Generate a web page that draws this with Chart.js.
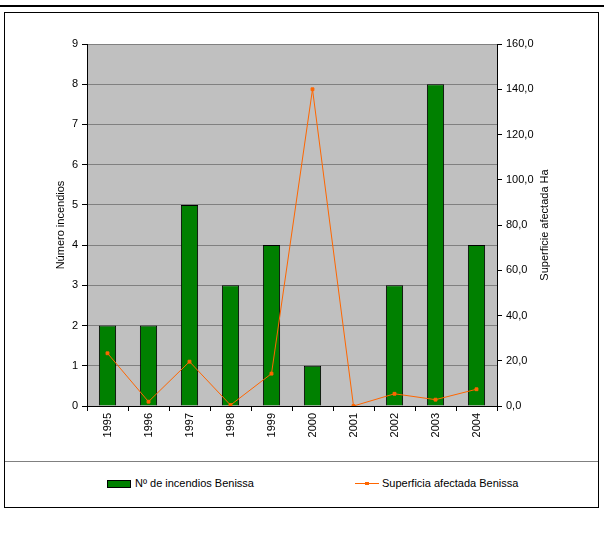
<!DOCTYPE html>
<html>
<head>
<meta charset="utf-8">
<script src="https://cdn.jsdelivr.net/npm/chart.js@4.4.0/dist/chart.umd.min.js"></script>
<style>
  body { margin: 0; background: #fff; font-family: "Liberation Sans", Arial, sans-serif; }
  #wrap { position: relative; width: 604px; height: 533px; }
  #topline { position: absolute; left: 0; top: 5px; width: 604px; height: 2px; background: #000; }
  #box { position: absolute; left: 4px; top: 12px; width: 593px; height: 494px; border: 1px solid #000; }
  #sep { position: absolute; left: 5px; top: 461px; width: 593px; height: 1px; background: #808080; }
  #my-chart { position: absolute; left: 0; top: 0; }
  .leg { position: absolute; top: 476px; font-size: 11px; color: #000; line-height: 14px; }
  .sw { position: absolute; }
</style>
</head>
<body>
<div id="wrap">
  <div id="topline"></div>
  <div id="box"></div>
  <canvas id="my-chart" width="604" height="461"></canvas>
  <div id="sep"></div>
  <div class="sw" style="left:107px;top:480px;width:22px;height:6px;background:#008000;border:1px solid #000;"></div>
  <div class="leg" style="left:135px;">Nº de incendios Benissa</div>
  <div class="sw" style="left:355px;top:483px;width:24px;height:1px;background:#FF6600;"></div>
  <div class="sw" style="left:365px;top:482px;width:4px;height:3px;background:#FF6600;"></div>
  <div class="leg" style="left:382px;">Superficia afectada Benissa</div>
</div>
<script>
'use strict';

// ***** DATA *****

let years = ['1995', '1996', '1997', '1998', '1999', '2000', '2001', '2002', '2003', '2004'];
let fireCount = [2, 2, 5, 3, 4, 1, 0, 3, 8, 4];
let burnedArea = [23.3, 1.9, 19.6, 0.4, 14.3, 140.0, 0.0, 5.4, 2.8, 7.4];
let countTicks = [0, 1, 2, 3, 4, 5, 6, 7, 8, 9];
let areaTicks = [0, 20, 40, 60, 80, 100, 120, 140, 160];
let rightTitle = 'Superficie afectada Ha';

let ctx = document.getElementById('my-chart').getContext('2d');

let tickFont = { family: '"Liberation Sans", Arial, sans-serif', size: 11 };

// grey plot area like the old spreadsheet charts
let plotBackground = {
  id: 'plotBackground',
  beforeDraw(chart){
    let a = chart.chartArea;
    chart.ctx.save();
    chart.ctx.fillStyle = '#C0C0C0';
    chart.ctx.fillRect(a.left, a.top, a.right - a.left, a.bottom - a.top);
    chart.ctx.restore();
  }
};

// right axis title reads bottom to top, chart.js turns it the other way
let rightAxisTitle = {
  id: 'rightAxisTitle',
  afterDraw(chart){
    let a = chart.chartArea;
    let c = chart.ctx;
    c.save();
    c.translate(chart.scales.yArea.right - 9, (a.top + a.bottom) / 2);
    c.rotate(-Math.PI / 2);
    c.font = '11px "Liberation Sans", Arial, sans-serif';
    c.fillStyle = '#000';
    c.textAlign = 'center';
    c.textBaseline = 'middle';
    c.fillText(rightTitle, 0, 0);
    c.restore();
  }
};

new Chart(ctx, {
  type: 'bar',
  data: {
    labels: years,
    datasets: [{
      type: 'line',
      label: 'Superficia afectada Benissa',
      data: burnedArea,
      yAxisID: 'yArea',
      borderColor: '#FF6600',
      backgroundColor: '#FF6600',
      borderWidth: 1,
      pointStyle: 'rect',
      pointRadius: 2,
      tension: 0,
      order: 0
    },
    {
      label: 'Nº de incendios Benissa',
      data: fireCount,
      yAxisID: 'yCount',
      backgroundColor: '#008000',
      borderColor: '#000000',
      borderWidth: 1,
      categoryPercentage: 0.42,
      barPercentage: 1,
      order: 1
    }]
  },
  options: {
    responsive: false,
    animation: false,
    devicePixelRatio: 1,
    layout: { padding: { top: 44, left: 52, right: 50, bottom: 0 } },
    plugins: { legend: { display: false }, tooltip: { enabled: false } },
    scales: {
      x: {
        offset: true,
        grid: { offset: true, drawOnChartArea: false, tickLength: 5, color: '#000', tickColor: '#000' },
        border: { color: '#000' },
        ticks: { color: '#000', font: tickFont, minRotation: 90, maxRotation: 90, padding: 2, autoSkip: false },
        afterFit(scale){ scale.height = 461 - 406; }
      },
      yCount: {
        position: 'left',
        min: 0,
        max: 9,
        afterBuildTicks(scale){ scale.ticks = countTicks.map(v => ({ value: v })); },
        grid: { color: '#808080', tickColor: '#000', tickLength: 5 },
        border: { color: '#000' },
        ticks: { color: '#000', font: tickFont, padding: 4, autoSkip: false },
        title: { display: true, text: 'Número incendios', color: '#000', font: tickFont, padding: 2 },
        afterFit(scale){ scale.width = 35; }
      },
      yArea: {
        position: 'right',
        min: 0,
        max: 160,
        afterBuildTicks(scale){ scale.ticks = areaTicks.map(v => ({ value: v })); },
        grid: { drawOnChartArea: false, tickColor: '#000', tickLength: 5 },
        border: { color: '#000' },
        ticks: {
          color: '#000',
          font: tickFont,
          padding: 4,
          autoSkip: false,
          callback: v => v.toFixed(1).replace('.', ',')
        },
        afterFit(scale){ scale.width = 57; }
      }
    }
  },
  plugins: [plotBackground, rightAxisTitle]
});
</script>
</body>
</html>
